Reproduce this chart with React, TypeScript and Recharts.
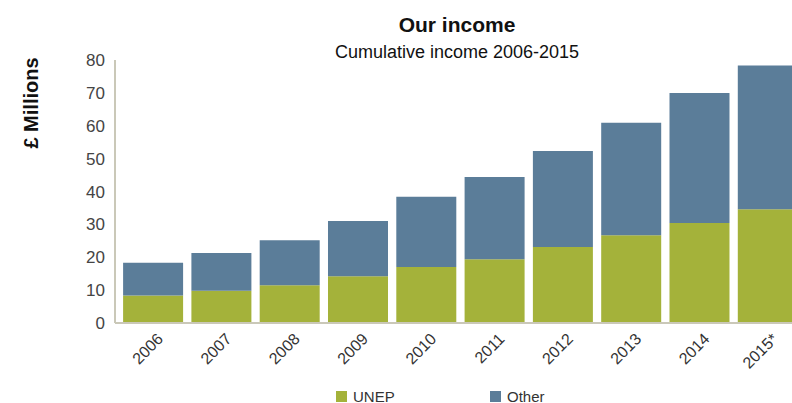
import { BarChart, Bar, XAxis, YAxis, Legend } from 'recharts';

const years = ['2006', '2007', '2008', '2009', '2010', '2011', '2012', '2013', '2014', '2015*'];
const unep = [8.4, 9.8, 11.5, 14.2, 17.0, 19.4, 23.1, 26.7, 30.4, 34.6];
const other = [9.9, 11.5, 13.7, 16.8, 21.4, 25.0, 29.2, 34.2, 39.6, 43.7];
const yTicks = [0, 10, 20, 30, 40, 50, 60, 70, 80];

const GREEN = '#a4b23a';
const BLUE = '#5b7d99';
const FONT = '"Liberation Sans", Arial, sans-serif';

const chartData = years.map((year, i) => ({ year, UNEP: unep[i], Other: other[i] }));

function YearTick(props: any) {
    const { x, y, payload } = props;
    const ax = x + 11;
    const ay = y + 9;
    return (
        <text
            x={ax}
            y={ay}
            transform={`rotate(-45, ${ax}, ${ay})`}
            textAnchor="end"
            fontSize={16}
            fontFamily={FONT}
            fill="#333"
        >
            {payload.value}
        </text>
    );
}

function LegendBox() {
    const item = (color: string, label: string, width: number) => (
        <div style={{ display: 'flex', alignItems: 'center', width }}>
            <div style={{ width: 11, height: 11, background: color, marginRight: 6 }} />
            <span style={{ fontSize: 15, color: '#333', fontFamily: FONT }}>{label}</span>
        </div>
    );
    return (
        <div style={{ display: 'flex', height: 20, alignItems: 'center' }}>
            {item(GREEN, 'UNEP', 154)}
            {item(BLUE, 'Other', 80)}
        </div>
    );
}

export default function App() {
    return (
        <div style={{ position: 'absolute', left: 0, top: 0, width: 792, height: 403, overflow: 'hidden', background: '#fff', fontFamily: FONT }}>
            <div style={{ position: 'absolute', left: 307, width: 300, top: 13, textAlign: 'center', fontSize: 21, fontWeight: 'bold', color: '#111' }}>
                Our income
            </div>
            <div style={{ position: 'absolute', left: 307, width: 300, top: 42, textAlign: 'center', fontSize: 18, color: '#111' }}>
                Cumulative income 2006-2015
            </div>
            <div
                style={{
                    position: 'absolute',
                    left: 31,
                    top: 103,
                    transform: 'translate(-50%, -50%) rotate(-90deg)',
                    fontSize: 20,
                    fontWeight: 'bold',
                    color: '#111',
                    whiteSpace: 'nowrap',
                }}
            >
                £ Millions
            </div>
            <BarChart
                width={804}
                height={403}
                data={chartData}
                margin={{ top: 60, right: 2, bottom: 0, left: 0 }}
                barCategoryGap="6%"
            >
                <XAxis
                    dataKey="year"
                    height={55}
                    padding={{ left: 4, right: 0 }}
                    axisLine={{ stroke: '#cac8b8', strokeWidth: 2 }}
                    tickLine={false}
                    tick={<YearTick />}
                    interval={0}
                />
                <YAxis
                    width={115}
                    domain={[0, 80]}
                    ticks={yTicks}
                    axisLine={{ stroke: '#cac8b8', strokeWidth: 2 }}
                    tickLine={false}
                    tickMargin={4}
                    tick={{ fontSize: 17, fill: '#444', fontFamily: FONT }}
                />
                <Legend
                    verticalAlign="bottom"
                    height={25}
                    content={<LegendBox />}
                    wrapperStyle={{ left: 336, width: 'auto', top: 386, bottom: 'auto' }}
                />
                <Bar dataKey="UNEP" stackId="a" fill={GREEN} isAnimationActive={false} />
                <Bar dataKey="Other" stackId="a" fill={BLUE} isAnimationActive={false} />
            </BarChart>
        </div>
    );
}
